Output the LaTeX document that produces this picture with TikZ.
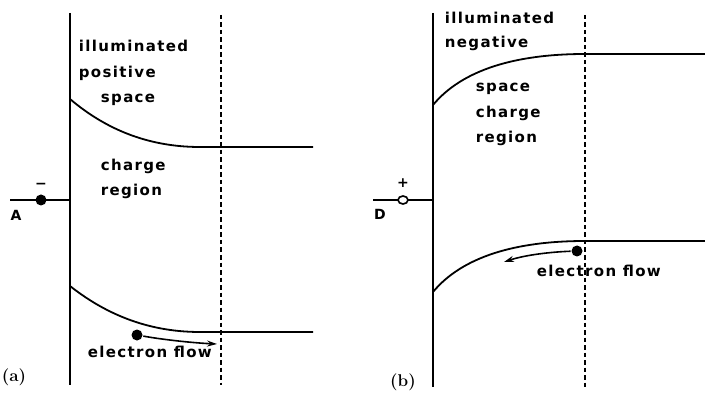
\documentclass[tikz,border=0pt]{standalone}
\usepackage{fontspec}
\newfontfamily\lab[LetterSpace=9]{DejaVu Sans Bold}
\newfontfamily\symf{DejaVu Sans Bold}
\usetikzlibrary{arrows.meta,shapes.geometric}
\begin{document}
\begin{tikzpicture}[x=1pt,y=-1pt,line width=1.8pt,
  txt/.style={font=\lab\fontsize{15}{15}\selectfont,anchor=mid west,inner sep=0pt},
  sym/.style={font=\symf\fontsize{14}{14}\selectfont,inner sep=0pt},
  panel/.style={font=\bfseries\fontsize{17}{17}\selectfont,inner sep=0pt},
  dashedline/.style={dash pattern=on 4.5pt off 3pt},
  dot/.style={circle,fill=black,minimum size=11pt,inner sep=0pt},
  hole/.style={ellipse,draw,fill=white,minimum width=10pt,minimum height=8pt,inner sep=0pt,line width=1.6pt},
  flow/.style={-{Stealth[length=10pt,width=6pt]},line width=1.6pt}]
\useasboundingbox (0,0) rectangle (705,393);
% ---------- panel (a)
\coordinate (a1) at (70,13); \coordinate (a2) at (70,385);
\draw (a1) -- (a2);
\coordinate (ad1) at (221,15); \coordinate (ad2) at (221,385);
\draw[dashedline] (ad1) -- (ad2);
\coordinate (au0) at (70,99); \coordinate (au1) at (200,147); \coordinate (au2) at (313,147);
\draw (au0) .. controls (103,127) and (145,147) .. (au1) -- (au2);
\coordinate (al0) at (70,286); \coordinate (al1) at (200,332); \coordinate (al2) at (313,332);
\draw (al0) .. controls (103,312) and (145,332) .. (al1) -- (al2);
\node[txt] (ta1) at (78,49) {illuminated};
\node[txt] (ta2) at (78,75) {positive};
\node[txt] (ta3) at (100,100) {space};
\node[txt] (ta4) at (100,168) {charge};
\node[txt] (ta5) at (100,193) {region};
\node[txt] (ta6) at (87,355) {electron flow};
\coordinate (aw0) at (10,200); \coordinate (aw1) at (70,200);
\draw (aw0) -- (aw1);
\node[dot] (adot) at (41,200) {};
\node[sym] (aminus) at (41,186) {−};
\node[sym] (lA) at (16,215) {A};
\node[dot] (ae) at (137,335) {};
\coordinate (aeend) at (217,344);
\draw[flow] (ae) .. controls (165,340) and (195,343) .. (aeend);
\node[panel] (pa) at (14,377) {(a)};
% ---------- panel (b)
\coordinate (b1) at (433,13); \coordinate (b2) at (433,387);
\draw (b1) -- (b2);
\coordinate (bd1) at (585,15); \coordinate (bd2) at (585,387);
\draw[dashedline] (bd1) -- (bd2);
\coordinate (bu0) at (433,105); \coordinate (bu1) at (585,54); \coordinate (bu2) at (705,54);
\draw (bu0) .. controls (462,70) and (515,54) .. (bu1) -- (bu2);
\coordinate (bl0) at (433,292); \coordinate (bl1) at (585,241); \coordinate (bl2) at (705,241);
\draw (bl0) .. controls (462,257) and (515,241) .. (bl1) -- (bl2);
\node[txt] (tb1) at (444,21) {illuminated};
\node[txt] (tb2) at (444,45) {negative};
\node[txt] (tb3) at (475,89) {space};
\node[txt] (tb4) at (475,115) {charge};
\node[txt] (tb5) at (475,140) {region};
\node[txt] (tb6) at (536,274) {electron flow};
\coordinate (bw0) at (373,200); \coordinate (bw1) at (433,200);
\draw (bw0) -- (bw1);
\node[hole] (bdot) at (403,200) {};
\node[sym] (bplus) at (403,183) {+};
\node[sym] (lD) at (380,214) {D};
\node[dot] (be) at (577,251) {};
\coordinate (beend) at (504,262);
\draw[flow] (be) .. controls (550,252) and (525,255) .. (beend);
\node[panel] (pb) at (403,382) {(b)};
\end{tikzpicture}
\end{document}
